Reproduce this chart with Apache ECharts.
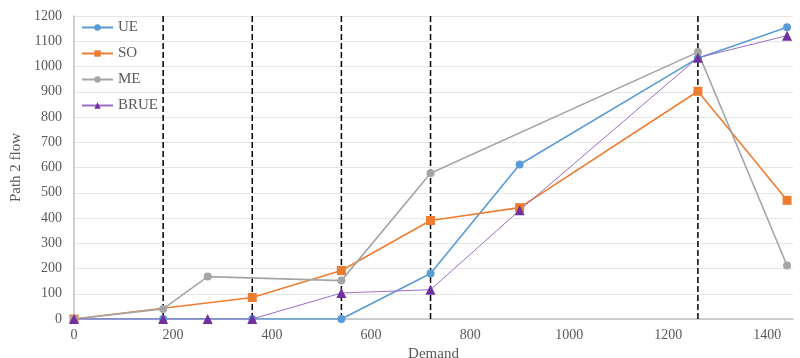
<!DOCTYPE html>
<html><head><meta charset="utf-8">
<script src="https://cdn.jsdelivr.net/npm/echarts@6/dist/echarts.min.js"></script>
<style>html,body{margin:0;padding:0;background:#fff}#c{width:800px;height:358px}</style>
</head><body><div id="c"></div>
<script>
const ueX = [0, 180, 360, 540, 720, 900, 1260, 1440];
const ueY = [0, 0, 0, 0, 180, 612, 1033, 1155];
const soX = [0, 360, 540, 720, 900, 1260, 1440];
const soY = [0, 85, 192, 390, 441, 902, 470];
const meX = [0, 180, 270, 540, 720, 1260, 1440];
const meY = [0, 40, 168, 152, 577, 1057, 212];
const brueX = [0, 180, 270, 360, 540, 720, 900, 1260, 1440];
const brueY = [0, 0, 0, 0, 103, 116, 431, 1035, 1122];
const dashX = [180, 360, 540, 720, 1260];
const dashTop = 1212;
const xTicks = [0, 200, 400, 600, 800, 1000, 1200, 1400];

const pair = (xs, ys) => xs.map((x, i) => [x, ys[i]]);
const font = 'Liberation Serif';
const chart = echarts.init(document.getElementById('c'));
const dashSeries = dashX.map(x => ({
  type: 'line', name: 'dash' + x, data: [[x, 0], [x, dashTop]], symbol: 'none', clip: false, silent: true,
  lineStyle: { color: '#000', type: [6, 3], width: 1.5 }, z: 1
}));
chart.setOption({
  animation: false,
  textStyle: { fontFamily: font },
  grid: { left: 74, right: 7, top: 16, bottom: 39, outerBoundsMode: 'none', containLabel: false },
  legend: {
    orient: 'vertical', left: 76, top: 15, itemWidth: 31, itemHeight: 8, itemGap: 11,
    textStyle: { fontFamily: font, fontSize: 15, color: '#595959' },
    data: ['UE', 'SO', 'ME', 'BRUE']
  },
  xAxis: {
    type: 'value', min: 0, max: 1452, interval: 200,
    name: 'Demand', nameLocation: 'middle', nameGap: 18,
    nameTextStyle: { fontFamily: font, fontSize: 15, color: '#595959' },
    axisLine: { lineStyle: { color: '#BFBFBF', width: 1.5 } },
    axisTick: { show: false },
    splitLine: { show: false },
    axisLabel: { fontFamily: font, fontSize: 14, color: '#595959', margin: 9, showMaxLabel: false,
      formatter: v => xTicks.includes(v) ? String(v) : '' }
  },
  yAxis: {
    type: 'value', min: 0, max: 1200, interval: 100,
    name: 'Path 2 flow', nameLocation: 'middle', nameGap: 46,
    nameTextStyle: { fontFamily: font, fontSize: 15, color: '#595959' },
    axisLine: { show: true, lineStyle: { color: '#BFBFBF', width: 1.5 } },
    axisTick: { show: false },
    splitLine: { lineStyle: { color: '#E6E6E6', width: 1 } },
    axisLabel: { fontFamily: font, fontSize: 14, color: '#595959', margin: 12, formatter: v => String(v) }
  },
  series: dashSeries.concat([
    { type: 'line', name: 'UE', data: pair(ueX, ueY), symbol: 'circle', symbolSize: 8,
      itemStyle: { color: '#5B9BD5' }, lineStyle: { color: '#5B9BD5', width: 1.6 }, z: 2 },
    { type: 'line', name: 'SO', data: pair(soX, soY), symbol: 'rect', symbolSize: 9,
      itemStyle: { color: '#ED7D31' }, lineStyle: { color: '#ED7D31', width: 1.6 }, z: 2 },
    { type: 'line', name: 'ME', data: pair(meX, meY), symbol: 'circle', symbolSize: 8,
      itemStyle: { color: '#A5A5A5' }, lineStyle: { color: '#A5A5A5', width: 1.6 }, z: 2 },
    { type: 'line', name: 'BRUE', data: pair(brueX, brueY), symbol: 'triangle', symbolSize: 10,
      itemStyle: { color: '#7030A0' }, lineStyle: { color: '#9A6DC8', width: 1 }, z: 2 }
  ])
});
</script></body></html>
